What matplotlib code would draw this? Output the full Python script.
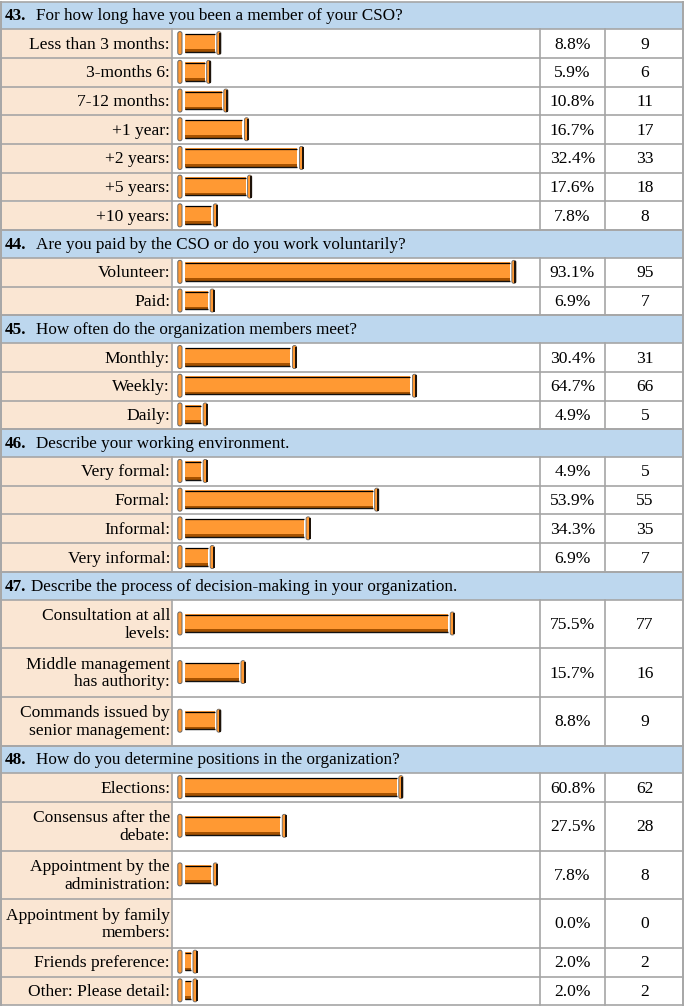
import matplotlib.pyplot as plt
from matplotlib.patches import Rectangle, FancyBboxPatch

plt.rcParams['font.family'] = ['Liberation Serif', 'DejaVu Serif']

# survey data
q_numbers = ["43.", "44.", "45.", "46.", "47.", "48."]
q_texts = [
    "For how long have you been a member of your CSO?",
    "Are you paid by the CSO or do you work voluntarily?",
    "How often do the organization members meet?",
    "Describe your working environment.",
    "Describe the process of decision-making in your organization.",
    "How do you determine positions in the organization?",
]
q_labels = [
    ["Less than 3 months:", "3-months 6:", "7-12 months:", "+1 year:",
     "+2 years:", "+5 years:", "+10 years:"],
    ["Volunteer:", "Paid:"],
    ["Monthly:", "Weekly:", "Daily:"],
    ["Very formal:", "Formal:", "Informal:", "Very informal:"],
    ["Consultation at all\nlevels:", "Middle management\nhas authority:",
     "Commands issued by\nsenior management:"],
    ["Elections:", "Consensus after the\ndebate:",
     "Appointment by the\nadministration:",
     "Appointment by family\nmembers:", "Friends preference:",
     "Other: Please detail:"],
]
q_pcts = [
    [8.8, 5.9, 10.8, 16.7, 32.4, 17.6, 7.8],
    [93.1, 6.9],
    [30.4, 64.7, 4.9],
    [4.9, 53.9, 34.3, 6.9],
    [75.5, 15.7, 8.8],
    [60.8, 27.5, 7.8, 0.0, 2.0, 2.0],
]
q_counts = [
    [9, 6, 11, 17, 33, 18, 8],
    [95, 7],
    [31, 66, 5],
    [5, 55, 35, 7],
    [77, 16, 9],
    [62, 28, 8, 0, 2, 2],
]

W, H = 685, 1007
fig = plt.figure(figsize=(W / 100, H / 100), dpi=100)
ax = fig.add_axes([0, 0, 1, 1])
ax.set_xlim(0, W)
ax.set_ylim(H, 0)
ax.axis('off')

HEAD_BG = '#BDD7EE'
LAB_BG = '#FAE6D3'
GRID = '#A6A6A6'
ORANGE = '#FF9933'
FS = 12.6
HFS = 12.3

x_left, x_lab, x_pct, x_cnt, x_right = 1, 172, 540, 605, 683
head_h, row_h, row2_h = 27.8, 28.7, 48.6
bar_x0 = 177
px_per_pct = 3.5


def draw_bar(yc, pct):
    body_w = px_per_pct * pct - 1
    bh = 19
    ch = 23
    top = yc - bh / 2
    # left cap
    ax.add_patch(FancyBboxPatch((bar_x0 + 0.8, yc - ch / 2), 4.2, ch,
                                boxstyle="round,pad=0,rounding_size=2.0",
                                fc=ORANGE, ec='#666666', lw=0.7, zorder=3))
    bx = bar_x0 + 8
    ax.add_patch(Rectangle((bx, top), body_w, bh, fc=ORANGE, ec='none', zorder=3))
    ax.add_patch(Rectangle((bx, top + bh - 3.5), body_w, 3.5, fc='#A65200',
                           ec='none', zorder=4))
    ax.plot([bx, bx + body_w], [top + 0.6, top + 0.6], color='black', lw=0.9,
            zorder=5, solid_capstyle='butt')
    ax.plot([bx, bx + body_w], [top + bh - 0.8, top + bh - 0.8], color='#111111',
            lw=1.0, zorder=5, solid_capstyle='butt')
    # right cap
    rx = bx + body_w + 2.0
    ax.add_patch(FancyBboxPatch((rx, yc - ch / 2), 4.2, ch,
                                boxstyle="round,pad=0,rounding_size=2.0",
                                fc=ORANGE, ec='#666666', lw=0.6, zorder=3))
    ax.plot([rx + 3.6, rx + 3.6], [yc - ch / 2 + 2, yc + ch / 2 - 1.5],
            color='#1a1008', lw=1.4, zorder=4)


y = 1.5
hlines = []
for num, text, labels, pcts, counts in zip(q_numbers, q_texts, q_labels,
                                            q_pcts, q_counts):
    ax.add_patch(Rectangle((x_left, y), x_right - x_left, head_h, fc=HEAD_BG,
                           ec='none', zorder=1))
    ax.text(5, y + head_h / 2 + 1, num, fontsize=HFS, fontweight='bold',
            va='center', ha='left', zorder=6)
    tx = 31 if num == "47." else 36
    ax.text(tx, y + head_h / 2 + 1, text, fontsize=HFS, va='center', ha='left',
            zorder=6)
    hlines.append((y, x_left, x_right))
    y += head_h
    hlines.append((y, x_left, x_right))
    for lab, pct, cnt in zip(labels, pcts, counts):
        h = row2_h if '\n' in lab else row_h
        ax.add_patch(Rectangle((x_left, y), x_lab - x_left, h, fc=LAB_BG,
                               ec='none', zorder=1))
        yc = y + h / 2 + 0.5
        ax.text(x_lab - 2, yc + 0.5, lab, fontsize=FS, va='center', ha='right',
                ma='right', linespacing=1.15, zorder=6)
        if pct > 0:
            draw_bar(yc - 1, pct)
        ax.text((x_pct + x_cnt) / 2, yc + 0.5, f"{pct:.1f}%", fontsize=FS,
                va='center', ha='center', zorder=6)
        ax.text((x_cnt + x_right) / 2 + 1, yc + 0.5, str(cnt), fontsize=FS,
                va='center', ha='center', zorder=6)
        for xv in (x_lab, x_pct, x_cnt):
            ax.plot([xv, xv], [y, y + h], color=GRID, lw=1.2, zorder=2)
        y += h
        hlines.append((y, x_left, x_right))

for yy, a, b in hlines:
    ax.plot([a, b], [yy, yy], color=GRID, lw=1.2, zorder=2)
ax.plot([x_left, x_left], [1.5, y], color=GRID, lw=1.4, zorder=2)
ax.plot([x_right, x_right], [1.5, y], color=GRID, lw=1.4, zorder=2)

fig.savefig('out.png', dpi=100, facecolor='white')
